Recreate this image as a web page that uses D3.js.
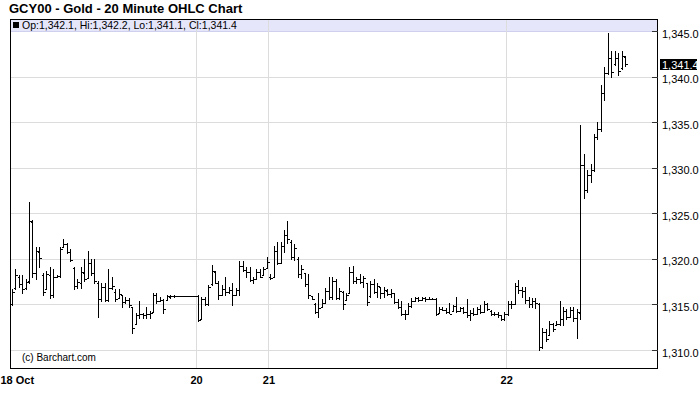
<!DOCTYPE html>
<html><head><meta charset="utf-8">
<script src="https://cdn.jsdelivr.net/npm/d3@7"></script>
<style>
html,body{margin:0;padding:0;background:#fff;}
svg{display:block;font-family:"Liberation Sans",Arial,Helvetica,sans-serif;}
</style></head><body>
<svg id="chart" width="700" height="411"></svg>
<script>
const title = "GCY00 - Gold - 20 Minute OHLC Chart";
const credit = "(c) Barchart.com";
const dayStarts = [0, 54, 75, 144];
const dayLabels = ["18 Oct", "20", "21", "22"];
const yTicks = [1310, 1315, 1320, 1325, 1330, 1335, 1340, 1345];

const opens = [
1315.1,1316.8,1318.0,1317.2,1316.8,1317.6,1324.0,1318.5,1320.8,1318.2,
1316.7,1318.2,1316.0,1318.0,1318.1,1321.3,1321.6,1320.8,1319.0,1317.0,
1317.4,1318.5,1317.9,1319.5,1318.4,1317.4,1315.6,1316.9,1315.5,1316.8,
1316.4,1315.7,1316.0,1315.3,1315.5,1314.7,1312.9,1313.8,1313.9,1313.8,
1314.0,1314.2,1316.0,1315.4,1315.5,1315.5,1315.8,1315.9,1315.9,1315.9,
1315.9,1315.9,1315.9,1315.9,1315.9,1313.4,1315.6,1315.0,1317.2,1318.6,
1317.4,1316.0,1316.7,1316.4,1316.6,1316.0,1316.6,1319.2,1318.8,1318.6,
1317.7,1317.8,1318.6,1318.2,1319.0,1318.0,1318.0,1320.9,1319.6,1321.4,
1322.6,1321.9,1320.2,1320.0,1318.3,1318.4,1317.2,1315.9,1315.1,1314.2,
1314.7,1315.2,1316.5,1315.8,1317.6,1315.7,1316.4,1315.5,1316.2,1318.6,
1317.6,1317.8,1317.5,1317.3,1315.9,1317.2,1316.4,1316.9,1316.2,1316.5,
1316.1,1316.2,1315.3,1314.7,1314.0,1314.0,1314.8,1315.4,1315.7,1315.5,
1315.7,1315.6,1315.6,1315.6,1314.1,1314.5,1314.4,1314.2,1314.3,1314.8,
1314.3,1314.6,1314.2,1313.8,1314.1,1314.0,1314.5,1314.2,1315.0,1314.3,
1314.0,1313.9,1313.8,1313.4,1314.0,1315.0,1315.1,1317.0,1316.6,1316.5,
1315.5,1315.0,1315.4,1315.1,1310.3,1312.0,1311.6,1312.8,1312.7,1312.9,
1313.4,1314.3,1313.6,1314.4,1313.5,1314.1,1330.3,1327.6,1329.2,1329.8,
1333.4,1334.2,1338.2,1340.4,1342.0,1341.4,1342.0,1340.9,1342.1];

const highs = [
1316.6,1318.8,1318.2,1318.2,1317.7,1326.2,1324.2,1321.2,1321.2,1318.4,
1318.6,1319.0,1318.8,1318.2,1321.3,1322.1,1321.7,1321.0,1319.0,1317.7,
1319.0,1319.9,1320.8,1319.9,1319.9,1317.5,1317.3,1317.3,1318.8,1317.9,
1316.6,1316.6,1316.0,1315.8,1315.7,1314.7,1314.0,1315.3,1314.0,1314.7,
1314.2,1316.2,1316.2,1315.8,1315.5,1316.0,1316.0,1316.0,1315.9,1315.9,
1315.9,1315.9,1315.9,1315.9,1316.0,1315.8,1315.8,1317.1,1319.3,1318.6,
1317.5,1317.1,1318.0,1316.9,1317.3,1316.8,1319.7,1319.7,1319.0,1319.1,
1317.9,1318.8,1318.8,1319.1,1320.1,1318.3,1321.4,1321.8,1321.8,1323.1,
1324.1,1322.0,1321.6,1320.1,1319.3,1318.4,1318.3,1315.9,1315.1,1316.2,
1315.5,1316.8,1317.9,1318.0,1317.7,1316.8,1316.4,1316.2,1319.1,1319.2,
1317.9,1318.3,1318.1,1317.3,1317.5,1317.7,1317.3,1316.9,1316.9,1316.6,
1316.6,1316.2,1315.5,1315.3,1314.3,1315.1,1315.6,1315.8,1315.8,1315.8,
1315.8,1315.8,1315.6,1315.6,1314.7,1314.7,1314.5,1315.1,1314.9,1315.8,
1314.7,1314.7,1315.5,1314.3,1314.5,1314.7,1314.9,1315.3,1315.1,1314.3,
1314.1,1314.1,1313.8,1314.1,1315.3,1315.3,1317.3,1317.6,1316.9,1316.9,
1315.8,1315.7,1315.7,1315.1,1312.4,1312.2,1313.1,1312.9,1313.1,1315.3,
1314.7,1314.4,1314.7,1314.7,1314.4,1334.6,1331.4,1329.7,1330.3,1333.6,
1335.0,1339.0,1341.0,1344.7,1342.8,1342.8,1342.5,1342.7,1342.2];

const lows = [
1314.9,1316.6,1316.9,1316.2,1316.6,1317.3,1318.0,1317.7,1319.0,1316.0,
1316.6,1315.7,1315.8,1317.9,1318.0,1321.2,1320.6,1319.7,1316.6,1316.8,
1316.8,1317.5,1317.9,1318.2,1317.3,1313.6,1315.3,1315.3,1315.3,1316.6,
1315.3,1315.7,1314.7,1315.1,1314.7,1311.8,1312.9,1313.5,1313.5,1313.5,
1313.5,1314.2,1315.1,1315.3,1314.0,1315.5,1315.7,1315.8,1315.9,1315.9,
1315.9,1315.9,1315.9,1315.9,1313.1,1313.3,1314.9,1314.9,1317.1,1317.3,
1315.5,1316.0,1316.0,1316.2,1314.9,1316.0,1316.0,1318.6,1318.0,1317.5,
1317.3,1317.7,1317.9,1318.2,1319.0,1317.7,1317.9,1319.4,1319.5,1320.7,
1321.7,1319.9,1319.8,1317.9,1317.8,1317.0,1315.7,1315.5,1314.0,1313.6,
1314.7,1315.1,1315.5,1315.5,1315.5,1315.5,1314.4,1315.5,1316.2,1317.3,
1317.3,1317.3,1316.9,1314.9,1315.8,1316.2,1315.8,1315.6,1315.8,1316.0,
1315.8,1315.1,1314.5,1313.8,1313.4,1314.0,1314.7,1315.3,1315.3,1315.5,
1315.3,1315.5,1315.6,1313.8,1314.1,1314.3,1314.0,1314.0,1314.3,1314.1,
1314.3,1314.0,1313.6,1313.2,1313.8,1314.0,1314.0,1314.1,1314.3,1313.8,
1313.8,1313.6,1313.2,1313.2,1313.8,1314.5,1315.1,1316.2,1315.8,1315.1,
1314.7,1314.7,1314.6,1310.0,1310.2,1310.9,1311.6,1312.0,1312.7,1312.7,
1312.7,1313.3,1313.6,1313.1,1311.3,1313.3,1326.6,1327.3,1328.4,1329.6,
1333.1,1334.0,1337.4,1340.2,1339.9,1341.2,1340.1,1340.8,1341.1];

const closes = [
1316.4,1318.2,1317.2,1316.7,1317.5,1324.2,1318.5,1320.9,1320.1,1316.4,
1318.3,1316.0,1318.0,1318.1,1321.1,1321.6,1320.8,1319.9,1317.0,1317.5,
1318.6,1317.8,1319.5,1318.4,1317.6,1315.6,1316.9,1315.5,1316.8,1317.0,
1315.6,1316.1,1315.3,1315.5,1314.9,1312.4,1313.8,1313.9,1313.8,1314.0,
1314.1,1316.0,1315.4,1315.5,1314.5,1315.9,1315.9,1315.9,1315.9,1315.9,
1315.9,1315.9,1315.9,1315.9,1313.3,1315.6,1315.0,1316.9,1318.7,1317.4,
1316.0,1316.7,1316.4,1316.6,1316.0,1316.6,1319.2,1318.8,1318.6,1317.7,
1317.8,1318.6,1318.0,1318.9,1319.7,1317.9,1320.9,1319.6,1321.4,1322.6,
1322.2,1320.2,1321.2,1318.3,1318.9,1317.2,1316.0,1315.6,1314.2,1314.6,
1315.2,1316.5,1315.8,1317.6,1315.7,1316.5,1315.0,1316.0,1318.6,1317.6,
1317.8,1317.5,1317.9,1315.3,1317.2,1316.4,1317.0,1316.2,1316.6,1316.1,
1316.3,1315.3,1314.7,1314.0,1313.9,1314.8,1315.4,1315.7,1315.5,1315.7,
1315.6,1315.6,1315.6,1314.0,1314.5,1314.4,1314.2,1314.0,1314.8,1314.3,
1314.6,1314.2,1313.8,1314.1,1314.0,1314.5,1314.2,1315.0,1314.5,1314.0,
1313.9,1313.8,1313.4,1314.0,1315.0,1315.1,1317.0,1316.6,1316.5,1315.5,
1315.0,1315.4,1315.2,1310.3,1312.0,1311.2,1312.8,1312.3,1312.9,1313.4,
1314.3,1313.6,1314.4,1313.5,1314.2,1330.3,1327.6,1329.2,1329.8,1333.4,
1334.2,1338.2,1340.4,1342.0,1340.5,1342.0,1340.6,1342.3,1341.4];

const W = 700, H = 411;
const plot = {left: 10, right: 657, top: 19, bottom: 368};
const n = closes.length;
const x = d3.scaleLinear().domain([0, n - 1]).range([11.8, 625]);
const y = d3.scaleLinear().domain([1310, 1345]).range([350, 31]);
const fmt = d3.format(",.1f");
const px = v => Math.round(v) + 0.5;

const svg = d3.select("#chart");
svg.append("rect").attr("width", W).attr("height", H).attr("fill", "#fff");

svg.append("text").attr("x", 9).attr("y", 13)
  .attr("font-size", 13).attr("font-weight", "bold").attr("fill", "#000")
  .text(title);

// legend band
svg.append("rect")
  .attr("x", plot.left).attr("y", plot.top)
  .attr("width", plot.right - plot.left).attr("height", Math.round(y(1345)) - plot.top)
  .attr("fill", "#e6e6fa");

// horizontal grid
svg.append("g").selectAll("line").data(yTicks).join("line")
  .attr("x1", plot.left).attr("x2", plot.right)
  .attr("y1", d => px(y(d))).attr("y2", d => px(y(d)))
  .attr("stroke", d => d === 1345 ? "#cfcfee" : "#dcdcdc").attr("stroke-width", 1);

// vertical day grid
const dayX = i => i === 0 ? plot.left : x(i) - 1.7;
svg.append("g").selectAll("line").data(dayStarts.slice(1)).join("line")
  .attr("x1", d => px(dayX(d))).attr("x2", d => px(dayX(d)))
  .attr("y1", plot.top).attr("y2", plot.bottom)
  .attr("stroke", "#dcdcdc").attr("stroke-width", 1);

// OHLC bars
const idx = d3.range(n);
const bars = svg.append("g").attr("stroke", "#000").attr("stroke-width", 1.2)
  .attr("shape-rendering", "crispEdges");
bars.selectAll("line.hl").data(idx).join("line").attr("class", "hl")
  .attr("x1", i => px(x(i))).attr("x2", i => px(x(i)))
  .attr("y1", i => y(highs[i]) - 0.5).attr("y2", i => y(lows[i]) + 0.5);
bars.selectAll("line.op").data(idx).join("line").attr("class", "op")
  .attr("x1", i => px(x(i)) - 2).attr("x2", i => px(x(i)))
  .attr("y1", i => px(y(opens[i]))).attr("y2", i => px(y(opens[i])));
bars.selectAll("line.cl").data(idx).join("line").attr("class", "cl")
  .attr("x1", i => px(x(i))).attr("x2", i => px(x(i)) + 2)
  .attr("y1", i => px(y(closes[i]))).attr("y2", i => px(y(closes[i])));

// frame
svg.append("rect").attr("x", plot.left + 0.5).attr("y", plot.top + 0.5)
  .attr("width", plot.right - plot.left).attr("height", plot.bottom - plot.top)
  .attr("fill", "none").attr("stroke", "#000").attr("stroke-width", 1);

// legend text
const last = n - 1;
svg.append("rect").attr("x", 13).attr("y", 22).attr("width", 6).attr("height", 6).attr("fill", "#000");
svg.append("text").attr("x", 22).attr("y", 29).attr("font-size", 10.5).attr("fill", "#000")
  .text(`Op:${fmt(opens[last])}, Hi:${fmt(highs[last])}, Lo:${fmt(lows[last])}, Cl:${fmt(closes[last])}`);

// right axis
const ax = svg.append("g");
ax.selectAll("line").data(yTicks).join("line")
  .attr("x1", plot.right - 5).attr("x2", plot.right + 1)
  .attr("y1", d => px(y(d))).attr("y2", d => px(y(d)))
  .attr("stroke", "#333").attr("stroke-width", 1);
ax.selectAll("text").data(yTicks).join("text")
  .attr("x", 662).attr("y", d => y(d) + 6.5)
  .attr("font-size", 11).attr("fill", "#000")
  .text(d => fmt(d));

// last price box
const lc = y(closes[last]);
svg.append("rect").attr("x", 660).attr("y", Math.round(lc) - 5).attr("width", 37).attr("height", 11).attr("fill", "#000");
svg.append("text").attr("x", 662).attr("y", Math.round(lc) + 4.5)
  .attr("font-size", 11).attr("fill", "#fff").text(fmt(closes[last]));

// x labels
svg.append("g").selectAll("text").data(dayStarts).join("text")
  .attr("x", (d, k) => k === 0 ? 0.5 : dayX(d) + 0.5)
  .attr("y", 384).attr("text-anchor", (d, k) => k === 0 ? "start" : "middle")
  .attr("font-size", 11).attr("font-weight", "bold").attr("fill", "#000")
  .text((d, k) => dayLabels[k]);

svg.append("text").attr("x", 22).attr("y", 361).attr("font-size", 10).attr("fill", "#000").text(credit);
</script>
</body></html>
